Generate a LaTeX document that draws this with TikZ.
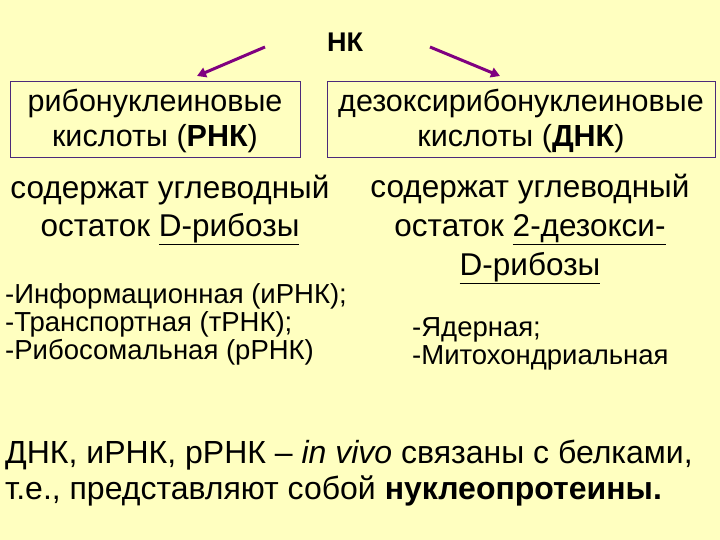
\documentclass[tikz,border=0pt]{standalone}
\usepackage{fontspec}
\setmainfont{Liberation Sans}
\usetikzlibrary{arrows.meta}
\definecolor{bg}{HTML}{FFFFC0}
\definecolor{pur}{HTML}{800080}
\definecolor{bx}{HTML}{4B2A7A}
\begin{document}
\begin{tikzpicture}[x=1pt,y=-1pt,
  txt/.style={inner sep=0pt,align=center},
  arr/.style={pur,line width=3pt,-{Triangle[length=9pt,width=10pt]}},
  box/.style={draw=bx,line width=1pt,inner sep=0pt}]
\fill[bg] (0,0) rectangle (720,540);
\useasboundingbox (0,0) rectangle (720,540);
\node[txt,font=\fontsize{27}{27}\selectfont\bfseries] (nk) at (345,42) {НК};
\node[box,minimum width=290pt,minimum height=76pt] (rna) at (155,120) {};
\node[box,minimum width=388pt,minimum height=76pt] (dna) at (521,120) {};
\node[txt,font=\fontsize{30.5}{35}\selectfont] (rnat) at (155,121) {рибонуклеиновые\\кислоты (\textbf{РНК})};
\node[txt,font=\fontsize{30.5}{35}\selectfont] (dnat) at (521,121) {дезоксирибонуклеиновые\\кислоты (\textbf{ДНК})};
\coordinate (a1) at (265,47); \coordinate (b1) at (197,76);
\coordinate (a2) at (430,47); \coordinate (b2) at (500,76);
\draw[arr] (a1) -- (b1);
\draw[arr] (a2) -- (b2);
\node[txt,font=\fontsize{31.5}{38}\selectfont] (r1) at (170,210) {содержат углеводный\\остаток \underline{D-рибозы}};
\node[txt,font=\fontsize{31.5}{39}\selectfont] (d1) at (530,229) {содержат углеводный\\остаток \underline{2-дезокси-}\\\underline{D-рибозы}};
\node[txt,align=left,anchor=north west,font=\fontsize{27.5}{28}\selectfont] (r2) at (5,283) {-Информационная (иРНК);\\-Транспортная (тРНК);\\-Рибосомальная (рРНК)};
\node[txt,align=left,anchor=north west,font=\fontsize{27.5}{28}\selectfont] (d2) at (412,317) {-Ядерная;\\-Митохондриальная};
\node[txt,align=left,anchor=north west,font=\fontsize{32}{36}\selectfont] (bt) at (5,440) {ДНК, иРНК, рРНК -- \textit{in vivo} связаны с белками,\\т.е., представляют собой \textbf{нуклеопротеины.}};
\end{tikzpicture}
\end{document}
